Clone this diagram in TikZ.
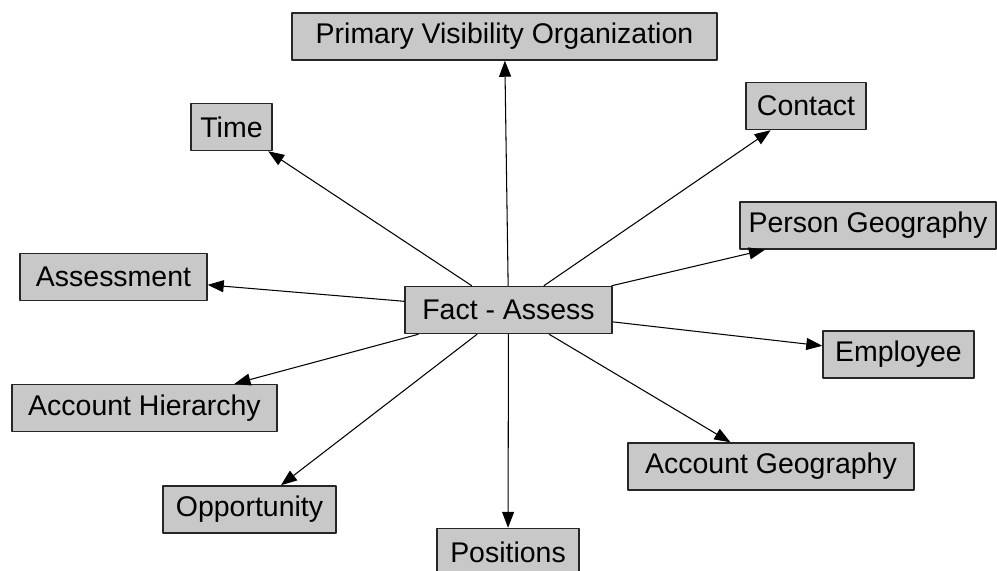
\documentclass[tikz,border=0pt]{standalone}
\usepackage{fontspec}
\setmainfont{Liberation Sans}
\usetikzlibrary{arrows.meta}
\definecolor{boxgray}{RGB}{200,200,200}
\begin{document}
\begin{tikzpicture}[x=0.02cm,y=-0.02cm,>={Triangle[length=3.2mm,width=2.4mm]},line join=round,
	tbl/.style={draw=black!85,fill=boxgray,line width=0.85pt,minimum height=0.94cm,inner sep=0pt,font=\fontsize{16.2}{19}\selectfont}]
	\useasboundingbox (0,0) rectangle (997,571);
	\node[tbl,minimum width=4.14cm] (fact) at (508.5,310) {Fact - Assess};
	\node[tbl,minimum width=8.5cm] (pvo) at (504.5,36.5) {Primary Visibility Organization};
	\node[tbl,minimum width=1.62cm] (time) at (231.5,127) {Time};
	\node[tbl,minimum width=2.4cm] (contact) at (806,106) {Contact};
	\node[tbl,minimum width=5.12cm] (persgeo) at (868,225.5) {Person Geography};
	\node[tbl,minimum width=3.74cm] (assess) at (113.5,277) {Assessment};
	\node[tbl,minimum width=3.02cm] (employee) at (898.5,354.5) {Employee};
	\node[tbl,minimum width=5.3cm] (accthier) at (144.5,408) {Account Hierarchy};
	\node[tbl,minimum width=5.72cm] (acctgeo) at (771,466.5) {Account Geography};
	\node[tbl,minimum width=3.46cm] (opp) at (249.5,509.5) {Opportunity};
	\node[tbl,minimum width=2.84cm] (pos) at (508,552) {Positions};
	% fact table to each dimension
	\foreach \t in {pvo,time,contact,persgeo,assess,employee,accthier,acctgeo,opp,pos}
	\draw[->,line width=0.6pt] (fact)--(\t);
\end{tikzpicture}
\end{document}
